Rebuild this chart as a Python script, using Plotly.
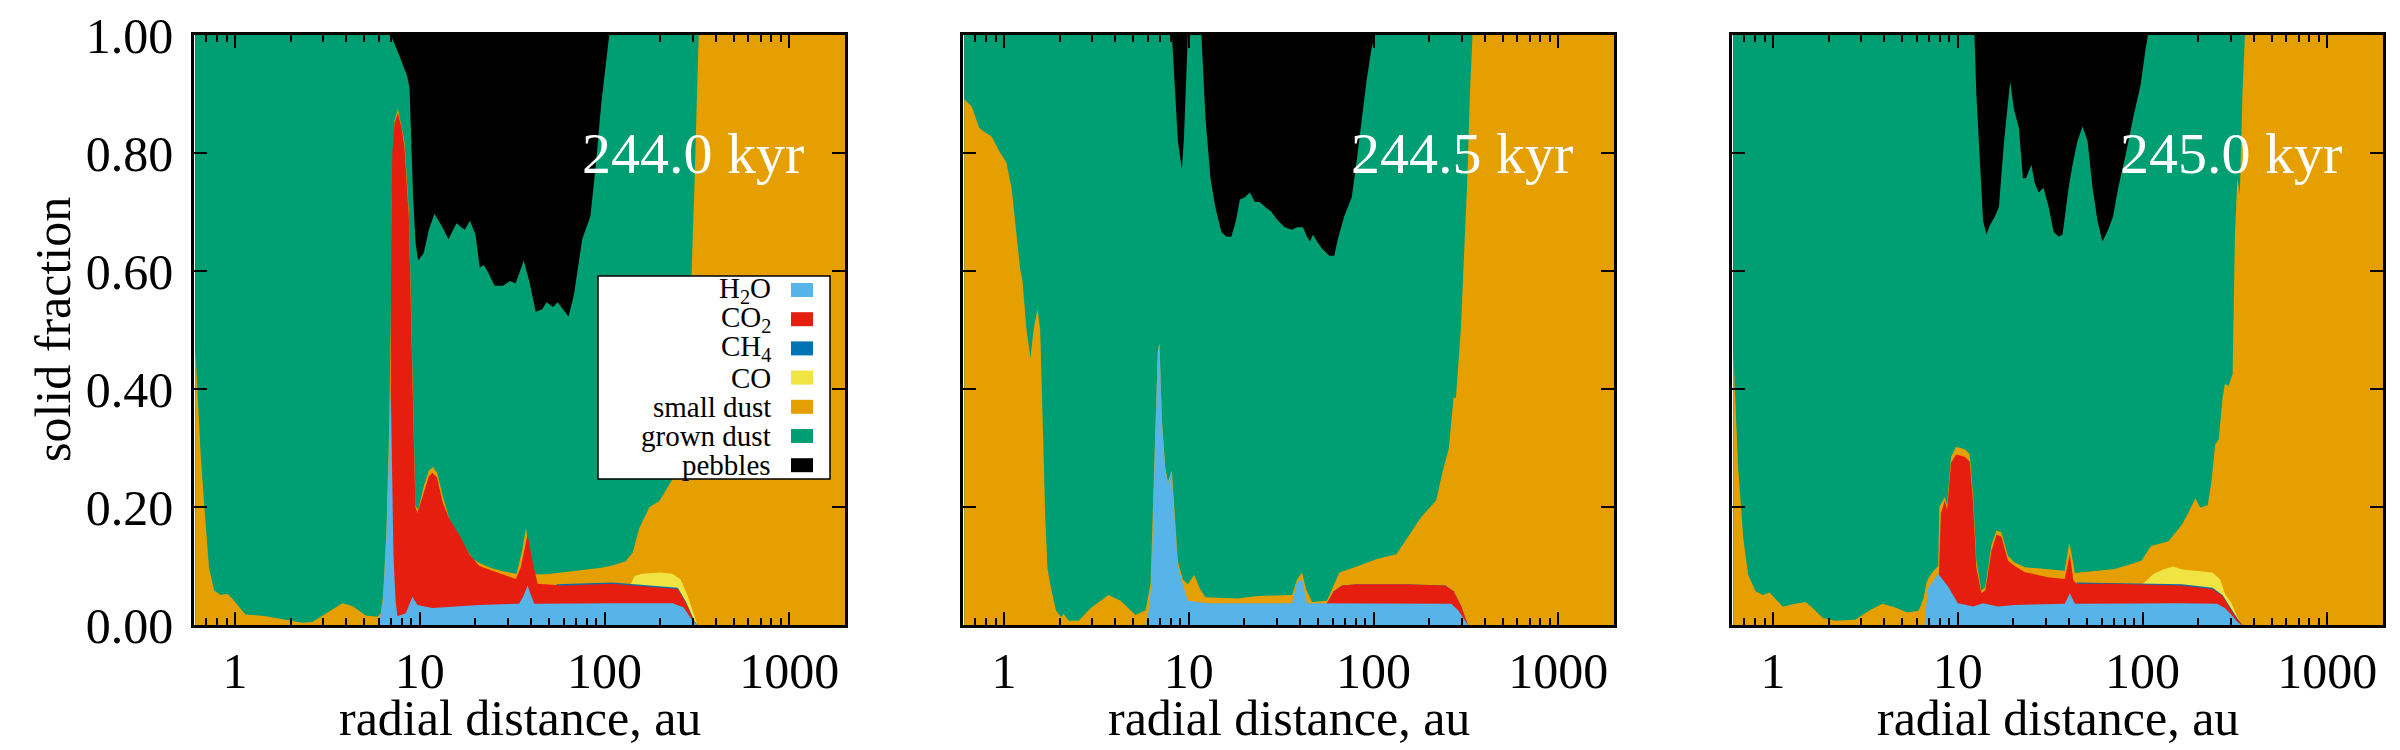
import numpy as np
import plotly.graph_objects as go

# Solid composition of the disc, three snapshots.
# Each list holds (radius [au], cumulative top of the layer).
# Layers stack from the bottom: H2O, CO2, CH4, CO, small dust, grown dust, pebbles.

TIMES = ["244.0 kyr", "244.5 kyr", "245.0 kyr"]

PEBBLES_TOP = [(0.61, 1.0), (2000, 1.0)]

# ---- 244.0 kyr ----
T1_GROWN = [(0.61, 1.0), (6.97, 1.0), (7.73, 0.966), (8.55, 0.93), (8.8, 0.91), (9.2, 0.725),
            (9.5, 0.646), (9.79, 0.618), (10.5, 0.63), (11.2, 0.67), (12.0, 0.697), (13.1, 0.677),
            (14.3, 0.654), (15.8, 0.681), (17.5, 0.67), (18.7, 0.685), (20.0, 0.662), (21.1, 0.606),
            (22.2, 0.61), (23.4, 0.598), (25.4, 0.575), (28.2, 0.575), (30.8, 0.583), (33.0, 0.579),
            (36.5, 0.618), (39.1, 0.583), (42.4, 0.531), (46.0, 0.535), (48.5, 0.547), (52.7, 0.539),
            (55.7, 0.547), (63.8, 0.523), (68.2, 0.559), (75.7, 0.654), (83.8, 0.693), (89.7, 0.78),
            (95.9, 0.883), (106, 1.0), (2000, 1.0)]
T1_SMALL = [(0.61, 0.47), (0.625, 0.40), (0.652, 0.29), (0.679, 0.21), (0.723, 0.098), (0.77, 0.059),
            (0.836, 0.051), (0.908, 0.053), (0.967, 0.045), (1.05, 0.031), (1.14, 0.018), (1.47, 0.015),
            (1.96, 0.008), (2.32, 0.004), (2.62, 0.005), (3.1, 0.020), (3.81, 0.037), (4.32, 0.032),
            (5.1, 0.016), (5.9, 0.014), (6.15, 0.02), (6.33, 0.05), (6.6, 0.16), (6.82, 0.33),
            (6.97, 0.52), (7.05, 0.72), (7.3, 0.855), (7.62, 0.875), (8.26, 0.82), (8.73, 0.70),
            (9.15, 0.41), (9.47, 0.203), (9.8, 0.195), (10.5, 0.235), (11.2, 0.262), (11.8, 0.268),
            (12.4, 0.258), (13.3, 0.219), (14.7, 0.172), (16.3, 0.152), (17.5, 0.132), (19.4, 0.112),
            (21.4, 0.104), (24.6, 0.096), (28.2, 0.091), (33.4, 0.087), (35.7, 0.124), (37.5, 0.164),
            (39.6, 0.124), (41.8, 0.086), (48.6, 0.086), (63.8, 0.090), (78, 0.093), (96, 0.097),
            (110, 0.101), (130, 0.108), (142, 0.123), (154, 0.164), (175, 0.20), (198, 0.21),
            (233, 0.247), (258, 0.30), (282, 0.40), (295, 0.58), (306, 0.74), (323, 1.0), (2000, 1.0)]
T1_CO = [(138, 0.068), (145, 0.083), (160, 0.087), (200, 0.089), (233, 0.087), (258, 0.077),
         (282, 0.049), (306, 0.013), (318, 0.0)]
T1_CH4 = [(55, 0.069), (110, 0.072), (249, 0.063), (276, 0.039), (306, 0.007), (318, 0.0)]
T1_CO2 = [(6.9, 0.0), (6.95, 0.45), (7.0, 0.65), (7.1, 0.80), (7.3, 0.85), (7.62, 0.868), (8.0, 0.84),
          (8.26, 0.81), (8.73, 0.69), (9.15, 0.40), (9.47, 0.20), (9.71, 0.19), (10.5, 0.225),
          (11.2, 0.252), (11.7, 0.258), (12.4, 0.25), (13.3, 0.208), (14.4, 0.181), (16.7, 0.148),
          (18.5, 0.12), (21, 0.10), (25.8, 0.09), (33.1, 0.078), (35.2, 0.098), (38.3, 0.153),
          (40.7, 0.109), (43.4, 0.07), (59.2, 0.067), (110, 0.07), (249, 0.061), (276, 0.037),
          (306, 0.006), (316, 0.0)]
T1_H2O = [(0.61, 0.0), (6.0, 0.0), (6.33, 0.043), (6.6, 0.153), (6.82, 0.30), (6.97, 0.40),
          (7.05, 0.3), (7.2, 0.12), (7.4, 0.04), (7.57, 0.015), (8.4, 0.02), (9.12, 0.048),
          (9.71, 0.034), (11.7, 0.029), (21, 0.034), (34.5, 0.036), (36.5, 0.05), (38.3, 0.067),
          (40, 0.05), (41.7, 0.036), (110, 0.037), (233, 0.037), (267, 0.03), (295, 0.01),
          (316, 0.0), (2000, 0.0)]

# ---- 244.5 kyr ----
T2_GROWN = [(0.61, 1.0), (8.10, 1.0), (8.73, 0.82), (9.17, 0.772), (9.40, 0.82), (9.75, 0.978),
            (9.88, 1.0), (11.7, 1.0), (12.3, 0.86), (13.1, 0.757), (13.9, 0.709), (15.0, 0.666),
            (16.0, 0.658), (17.0, 0.658), (18.0, 0.685), (18.9, 0.721), (20.1, 0.725), (21.4, 0.733),
            (22.8, 0.717), (24.2, 0.717), (25.8, 0.709), (27.9, 0.701), (30.1, 0.687), (33.0, 0.674),
            (36.2, 0.670), (38.5, 0.674), (41.5, 0.674), (43.6, 0.658), (45.3, 0.65), (47.0, 0.662),
            (49.4, 0.65), (52.5, 0.638), (57.6, 0.626), (61.3, 0.626), (64.0, 0.654), (69.4, 0.693),
            (76.2, 0.725), (81.1, 0.788), (86.1, 0.859), (91.6, 0.922), (97.5, 0.978), (102, 1.0),
            (2000, 1.0)]
T2_SMALL = [(0.61, 0.891), (0.669, 0.879), (0.734, 0.843), (0.78, 0.836), (0.857, 0.828), (0.94, 0.804),
            (1.03, 0.784), (1.10, 0.74), (1.17, 0.66), (1.22, 0.606), (1.26, 0.583), (1.32, 0.504),
            (1.39, 0.452), (1.45, 0.504), (1.52, 0.535), (1.57, 0.50), (1.62, 0.345), (1.67, 0.187),
            (1.72, 0.096), (1.80, 0.061), (1.91, 0.025), (2.04, 0.013), (2.10, 0.019), (2.24, 0.007),
            (2.53, 0.007), (2.95, 0.029), (3.67, 0.051), (4.28, 0.041), (5.15, 0.017), (5.84, 0.025),
            (6.21, 0.07), (6.52, 0.27), (6.8, 0.466), (6.94, 0.478), (7.15, 0.35), (7.47, 0.266),
            (7.71, 0.243), (8.10, 0.262), (8.73, 0.108), (9.29, 0.077), (9.88, 0.069), (10.7, 0.085),
            (11.5, 0.061), (12.3, 0.047), (18.3, 0.045), (23.5, 0.049), (36.2, 0.051), (38.5, 0.077),
            (41.0, 0.089), (43.1, 0.061), (46.4, 0.039), (55.9, 0.041), (65.3, 0.089), (81.1, 0.099),
            (104, 0.112), (133, 0.120), (150, 0.144), (181, 0.183), (218, 0.211), (239, 0.266),
            (255, 0.298), (271, 0.385), (279, 0.385), (297, 0.504), (312, 0.662), (320, 0.74),
            (332, 0.899), (343, 1.0), (2000, 1.0)]
T2_CO2 = [(55.9, 0.037), (60.9, 0.057), (67.4, 0.067), (81, 0.069), (150, 0.069), (245, 0.067),
          (271, 0.057), (297, 0.033), (324, 0.0)]
T2_CH4 = T2_CO2
T2_CO = T2_CO2
T2_H2O = [(0.61, 0.0), (5.84, 0.0), (6.0, 0.013), (6.28, 0.069), (6.52, 0.266), (6.8, 0.464),
          (6.94, 0.476), (7.15, 0.345), (7.47, 0.262), (7.71, 0.239), (8.05, 0.262), (8.73, 0.10),
          (9.29, 0.069), (9.88, 0.041), (12.6, 0.037), (36.2, 0.037), (38.5, 0.073), (41.0, 0.077),
          (43.7, 0.037), (81, 0.037), (263, 0.036), (287, 0.025), (316, 0.006), (324, 0.0),
          (2000, 0.0)]

# ---- 245.0 kyr ----
T3_GROWN = [(0.61, 1.0), (12.3, 1.0), (12.6, 0.899), (13.2, 0.78), (13.7, 0.685), (14.3, 0.662),
            (14.9, 0.677), (15.9, 0.693), (16.7, 0.709), (17.8, 0.82), (19.2, 0.921), (20.1, 0.875),
            (21.4, 0.843), (22.5, 0.757), (23.4, 0.757), (25.0, 0.78), (26.1, 0.749), (27.4, 0.733),
            (29.1, 0.741), (31.0, 0.709), (33.0, 0.666), (35.3, 0.658), (36.9, 0.662), (39.8, 0.741),
            (41.8, 0.78), (44.4, 0.82), (47.3, 0.845), (50.4, 0.82), (53.6, 0.741), (57.0, 0.685),
            (60.6, 0.65), (65.1, 0.670), (69.3, 0.693), (73.8, 0.741), (80.9, 0.796), (88.8, 0.859),
            (97.5, 0.915), (104, 0.978), (107, 1.0), (2000, 1.0)]
T3_SMALL = [(0.61, 0.46), (0.621, 0.40), (0.648, 0.266), (0.69, 0.148), (0.734, 0.085), (0.805, 0.057),
            (0.883, 0.051), (0.958, 0.055), (1.03, 0.045), (1.13, 0.031), (1.28, 0.035), (1.50, 0.039),
            (1.64, 0.029), (1.86, 0.012), (2.17, 0.007), (2.78, 0.009), (3.34, 0.025), (3.90, 0.036),
            (4.56, 0.03), (5.32, 0.021), (6.13, 0.024), (6.53, 0.045), (6.75, 0.07), (6.9, 0.078),
            (7.3, 0.09), (7.83, 0.10), (7.95, 0.2), (8.5, 0.217), (8.75, 0.203), (9.2, 0.285),
            (9.8, 0.302), (10.9, 0.298), (11.6, 0.29), (12.1, 0.22), (12.6, 0.11), (13.4, 0.058),
            (14.1, 0.065), (15.2, 0.135), (16.2, 0.160), (17.2, 0.157), (18.7, 0.117), (20.3, 0.106),
            (23.1, 0.098), (37.9, 0.092), (39.8, 0.133), (40.4, 0.137), (43, 0.088), (70.8, 0.095),
            (98.6, 0.109), (111, 0.134), (138, 0.142), (163, 0.17), (176, 0.189), (193, 0.215),
            (205, 0.199), (225, 0.203), (236, 0.243), (247, 0.306), (258, 0.314), (271, 0.385),
            (279, 0.409), (292, 0.405), (307, 0.425), (316, 0.662), (326, 0.757), (336, 0.73),
            (347, 0.899), (358, 1.0), (2000, 1.0)]
T3_CO = [(100, 0.069), (114, 0.086), (129, 0.094), (146, 0.099), (165, 0.094), (199, 0.091),
         (239, 0.089), (263, 0.077), (279, 0.053), (303, 0.037), (326, 0.013), (343, 0.0)]
T3_CH4 = [(44, 0.072), (163, 0.069), (239, 0.063), (271, 0.051), (297, 0.031), (326, 0.011), (347, 0.0)]
T3_CO2 = [(7.9, 0.086), (8.0, 0.15), (8.1, 0.19), (8.26, 0.197), (8.5, 0.211), (8.75, 0.195),
          (9.2, 0.275), (9.8, 0.289), (10.9, 0.285), (11.6, 0.277), (12.1, 0.208), (12.6, 0.098),
          (13.4, 0.054), (14.1, 0.059), (15.2, 0.125), (16.2, 0.153), (17.2, 0.150), (18.7, 0.109),
          (20.3, 0.10), (23.1, 0.0896), (30.8, 0.081), (37.9, 0.078), (40.4, 0.12), (42.2, 0.076),
          (44.0, 0.070), (70.8, 0.070), (163, 0.067), (239, 0.061), (271, 0.049), (297, 0.029),
          (326, 0.0095), (347, 0.0)]
T3_H2O = [(0.61, 0.0), (6.6, 0.0), (6.9, 0.062), (7.83, 0.087), (8.88, 0.065), (10.0, 0.037),
          (12.1, 0.0315), (13.7, 0.037), (16.5, 0.0315), (20.3, 0.034), (37.9, 0.036), (40.4, 0.054),
          (43, 0.036), (163, 0.037), (253, 0.036), (279, 0.029), (303, 0.017), (326, 0.005),
          (343, 0.0), (2000, 0.0)]

SNAPSHOTS = [
    [T1_GROWN, T1_SMALL, T1_CO, T1_CH4, T1_CO2, T1_H2O],
    [T2_GROWN, T2_SMALL, T2_CO, T2_CH4, T2_CO2, T2_H2O],
    [T3_GROWN, T3_SMALL, T3_CO, T3_CH4, T3_CO2, T3_H2O],
]

LEGEND_LABELS = ["H<sub>2</sub>O", "CO<sub>2</sub>", "CH<sub>4</sub>", "CO",
                 "small dust", "grown dust", "pebbles"]

# colours, drawing order top layer first so lower layers paint over it
C_PEB, C_GROWN, C_SMALL = "#000000", "#009e73", "#e69f00"
C_CO, C_CH4, C_CO2, C_H2O = "#f0e442", "#0072b2", "#e51e10", "#56b4e9"
LAYER_COLORS = [C_GROWN, C_SMALL, C_CO, C_CH4, C_CO2, C_H2O]
LEGEND_COLORS = [C_H2O, C_CO2, C_CH4, C_CO, C_SMALL, C_GROWN, C_PEB]

FONT = "Liberation Serif, Times New Roman, serif"
W, H = 2400, 750
OFF = 8  # the page body adds 8px around the plot div; positions below are screen pixels
X_DOMAINS = [(194, 845), (963, 1614), (1732, 2383)]
Y_TOP, Y_BOT = 35, 625


def px(sx):
    return (sx - OFF) / W


def py(sy):
    return 1 - (sy - OFF) / H


fig = go.Figure()


def add_layer(pts, color, idx):
    sfx = "" if idx == 0 else str(idx + 1)
    fig.add_trace(go.Scatter(
        x=[p[0] for p in pts], y=[p[1] for p in pts],
        mode="lines", line=dict(width=0), fill="tozeroy", fillcolor=color,
        xaxis="x" + sfx, yaxis="y" + sfx, showlegend=False, hoverinfo="skip"))


for i, layers in enumerate(SNAPSHOTS):
    add_layer(PEBBLES_TOP, C_PEB, i)
    for pts, col in zip(layers, LAYER_COLORS):
        add_layer(pts, col, i)

minor_vals = [v * 10 ** d for d in range(-1, 4) for v in range(2, 10)]

layout = dict(width=W, height=H, margin=dict(l=0, r=0, t=0, b=0, autoexpand=False),
              paper_bgcolor="white", plot_bgcolor="white",
              font=dict(family=FONT, color="black", size=50),
              showlegend=False)

for i, (x0, x1) in enumerate(X_DOMAINS):
    sfx = "" if i == 0 else str(i + 1)
    layout["xaxis" + sfx] = dict(
        type="log", range=[np.log10(0.6), np.log10(2000)], domain=[px(x0), px(x1)],
        anchor="y" + sfx, tickvals=[1, 10, 100, 1000], ticktext=["1", "10", "100", "1000"],
        ticks="inside", ticklen=13, tickwidth=2, tickcolor="black",
        minor=dict(tickvals=minor_vals, ticks="inside", ticklen=7, tickwidth=1.5, tickcolor="black"),
        showline=True, linecolor="black", linewidth=2.5, mirror="ticks", automargin=False,
        ticklabeloverflow="allow", showgrid=False, zeroline=False, tickfont=dict(size=50))
    layout["yaxis" + sfx] = dict(
        range=[0, 1], domain=[py(Y_BOT), py(Y_TOP)], anchor="x" + sfx,
        tickvals=[0, 0.2, 0.4, 0.6, 0.8, 1.0], tickformat=".2f",
        ticks="inside", ticklen=13, tickwidth=2, tickcolor="black",
        showline=True, linecolor="black", linewidth=2.5, mirror="ticks", automargin=False,
        ticklabeloverflow="allow", showgrid=False, zeroline=False,
        showticklabels=(i == 0), tickfont=dict(size=50), ticklabelstandoff=8)
    # x axis title placed by hand
    fig.add_annotation(x=px((x0 + x1) / 2), y=py(718), xref="paper", yref="paper",
                       text="radial distance, au", showarrow=False,
                       xanchor="center", yanchor="middle", font=dict(size=50, family=FONT))

fig.update_layout(**layout)

fig.add_annotation(x=px(53), y=py((Y_TOP + Y_BOT) / 2), xref="paper", yref="paper",
                   text="solid fraction", textangle=-90, showarrow=False,
                   xanchor="center", yanchor="middle", font=dict(size=50, family=FONT))

# snapshot time labels
for i, t in enumerate(TIMES):
    sfx = "" if i == 0 else str(i + 1)
    fig.add_annotation(x=3.09, y=0.8, xref="x" + sfx, yref="y" + sfx, text=t,
                       showarrow=False, xanchor="right", yanchor="middle",
                       font=dict(size=58, color="white", family=FONT))

# legend box drawn gnuplot style (labels right-aligned, swatch on the right)
fig.add_shape(type="rect", xref="paper", yref="paper",
              x0=px(598), x1=px(830), y0=py(479), y1=py(276),
              fillcolor="white", line=dict(color="black", width=1.5), layer="above")
for k, (lab, col) in enumerate(zip(LEGEND_LABELS, LEGEND_COLORS)):
    yc = 290 + k * 29.2
    fig.add_shape(type="rect", xref="paper", yref="paper",
                  x0=px(791), x1=px(813), y0=py(yc + 7), y1=py(yc - 7),
                  fillcolor=col, line=dict(width=0), layer="above")
    fig.add_annotation(x=px(773), y=py(yc), xref="paper", yref="paper", text=lab,
                       showarrow=False, xanchor="right", yanchor="middle",
                       font=dict(size=29, color="black", family=FONT))

fig.write_html("out.html")
